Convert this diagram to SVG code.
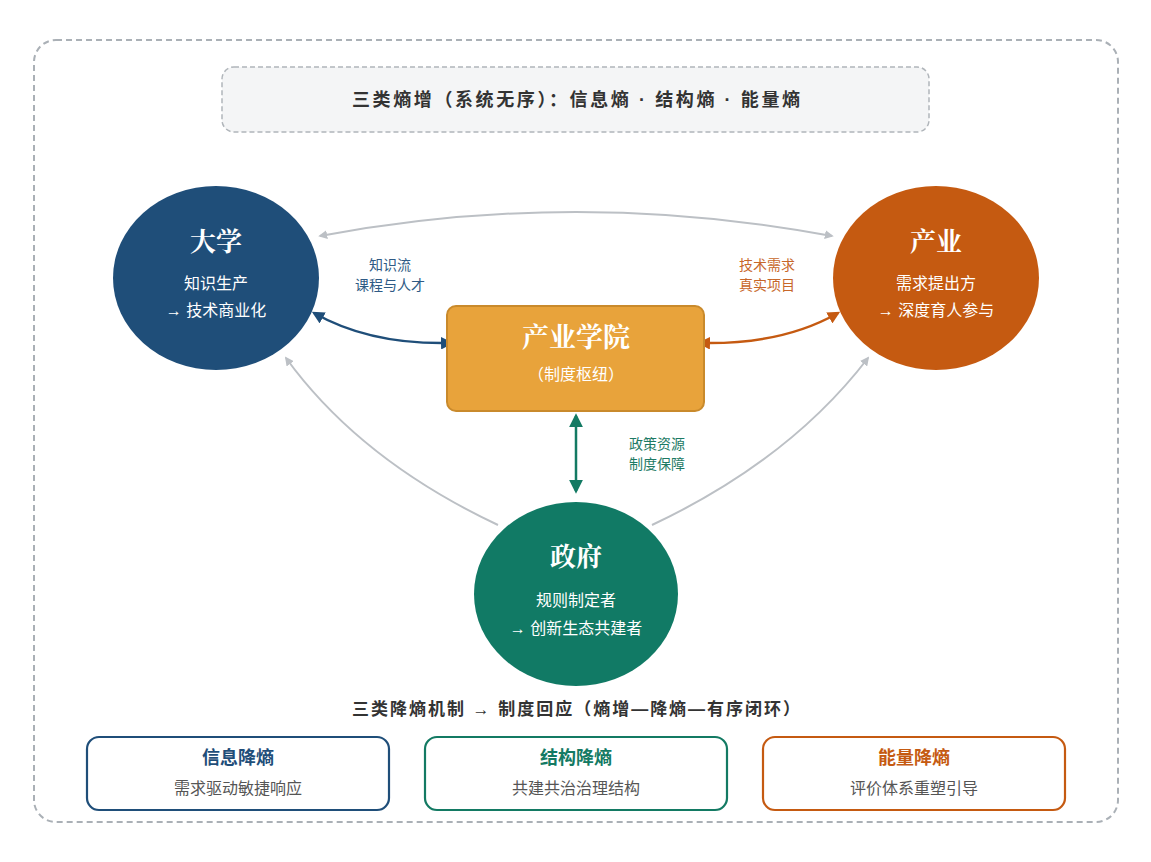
<svg xmlns="http://www.w3.org/2000/svg" width="1151" height="862" viewBox="0 0 1151 862">
<defs>
<style>
.t{font-family:"Liberation Sans","Noto Sans CJK SC",sans-serif;}
.title{font-family:"Noto Serif CJK SC","Liberation Serif","Noto Sans CJK SC",serif;font-weight:bold;fill:#fff;text-anchor:middle;}
.sub{font-family:"Liberation Sans","Noto Sans CJK SC",sans-serif;font-size:16px;fill:#fff;text-anchor:middle;}
.lbl{font-family:"Liberation Sans","Noto Sans CJK SC",sans-serif;font-size:14px;text-anchor:middle;}
.gray{fill:none;stroke:#bcc0c5;stroke-width:2;}
.bt{font-family:"Liberation Sans","Noto Sans CJK SC",sans-serif;font-size:18px;font-weight:bold;text-anchor:middle;}
.bs{font-family:"Liberation Sans","Noto Sans CJK SC",sans-serif;font-size:16px;fill:#555;text-anchor:middle;}
</style>
<marker id="ag" viewBox="0 0 10 10" refX="8" refY="5" markerWidth="9" markerHeight="9" markerUnits="userSpaceOnUse" orient="auto-start-reverse"><path d="M0,0 L10,5 L0,10 Z" fill="#bcc0c5"/></marker>
<marker id="ab" viewBox="0 0 10 10" refX="8" refY="5" markerWidth="5" markerHeight="5" orient="auto-start-reverse"><path d="M0,0 L10,5 L0,10 Z" fill="#1f4e79"/></marker>
<marker id="ao" viewBox="0 0 10 10" refX="8" refY="5" markerWidth="5" markerHeight="5" orient="auto-start-reverse"><path d="M0,0 L10,5 L0,10 Z" fill="#c55a11"/></marker>
<marker id="agr" viewBox="0 0 10 10" refX="8" refY="5" markerWidth="5.5" markerHeight="5.5" orient="auto-start-reverse"><path d="M0,0 L10,5 L0,10 Z" fill="#137a63"/></marker>
</defs>
<rect x="0" y="0" width="1151" height="862" fill="#fff"/>
<rect x="34" y="40" width="1084" height="782" rx="22" fill="none" stroke="#aab0b6" stroke-width="2" stroke-dasharray="6 4"/>
<g id="header">
<rect x="222" y="67" width="707" height="65" rx="12" fill="#f4f5f6" stroke="#b0b5ba" stroke-width="1.5" stroke-dasharray="5 3"/>
<text class="t" x="352" y="106" font-size="18" font-weight="bold" fill="#333" textLength="448" lengthAdjust="spacing">三类熵增（系统无序）：信息熵 · 结构熵 · 能量熵</text>
</g>
<g id="connectors">
<path class="gray" d="M320,236 Q576,188 832,236" marker-start="url(#ag)" marker-end="url(#ag)"/>
<path class="gray" d="M498,525 Q360,460 286,358" marker-end="url(#ag)"/>
<path class="gray" d="M652,525 Q790,460 868,358" marker-end="url(#ag)"/>
<path d="M314,313 Q370,345 451,343" fill="none" stroke="#1f4e79" stroke-width="2.5" marker-start="url(#ab)" marker-end="url(#ab)"/>
<path d="M838,313 Q782,345 700,343" fill="none" stroke="#c55a11" stroke-width="2.5" marker-start="url(#ao)" marker-end="url(#ao)"/>
<path d="M576,416 L576,491" fill="none" stroke="#137a63" stroke-width="2.5" marker-start="url(#agr)" marker-end="url(#agr)"/>
<text class="lbl" x="390" y="270" fill="#2e5a85">知识流</text>
<text class="lbl" x="390" y="290" fill="#2e5a85">课程与人才</text>
<text class="lbl" x="767" y="270" fill="#c7672a">技术需求</text>
<text class="lbl" x="767" y="290" fill="#c7672a">真实项目</text>
<text class="lbl" x="657" y="449" fill="#1d7a64">政策资源</text>
<text class="lbl" x="657" y="469" fill="#1d7a64">制度保障</text>
</g>
<g id="university">
<ellipse cx="216" cy="278" rx="103" ry="92" fill="#1f4e79"/>
<text class="title" x="216" y="251" font-size="26">大学</text>
<text class="sub" x="216" y="289">知识生产</text>
<text class="sub" x="216" y="316">→ 技术商业化</text>
</g>
<g id="industry">
<ellipse cx="936" cy="278" rx="103" ry="92" fill="#c55a11"/>
<text class="title" x="936" y="251" font-size="26">产业</text>
<text class="sub" x="936" y="289">需求提出方</text>
<text class="sub" x="936" y="316">→ 深度育人参与</text>
</g>
<g id="college">
<rect x="447" y="306" width="257" height="105" rx="9" fill="#e8a33b" stroke="#c98a2c" stroke-width="2"/>
<text class="title" x="576" y="347" font-size="27">产业学院</text>
<text class="sub" x="576" y="380" font-size="15.5">（制度枢纽）</text>
</g>
<g id="government">
<ellipse cx="576" cy="594" rx="102" ry="92" fill="#117a65"/>
<text class="title" x="576" y="566" font-size="26">政府</text>
<text class="sub" x="576" y="606">规则制定者</text>
<text class="sub" x="576" y="634">→ 创新生态共建者</text>
</g>
<g id="mech-heading">
<text class="t" x="352" y="715" font-size="17" font-weight="bold" fill="#333" textLength="448" lengthAdjust="spacing">三类降熵机制 → 制度回应（熵增—降熵—有序闭环）</text>
</g>
<g id="info">
<rect x="87" y="737" width="302" height="73" rx="12" fill="#fff" stroke="#1f4e79" stroke-width="2.2"/>
<text class="bt" x="238" y="764" fill="#1f4e79">信息降熵</text>
<text class="bs" x="238" y="794">需求驱动敏捷响应</text>
</g>
<g id="struct">
<rect x="425" y="737" width="302" height="73" rx="12" fill="#fff" stroke="#137a63" stroke-width="2.2"/>
<text class="bt" x="576" y="764" fill="#137a63">结构降熵</text>
<text class="bs" x="576" y="794">共建共治治理结构</text>
</g>
<g id="energy">
<rect x="763" y="737" width="302" height="73" rx="12" fill="#fff" stroke="#c55a11" stroke-width="2.2"/>
<text class="bt" x="914" y="764" fill="#c55a11">能量降熵</text>
<text class="bs" x="914" y="794">评价体系重塑引导</text>
</g>
</svg>
